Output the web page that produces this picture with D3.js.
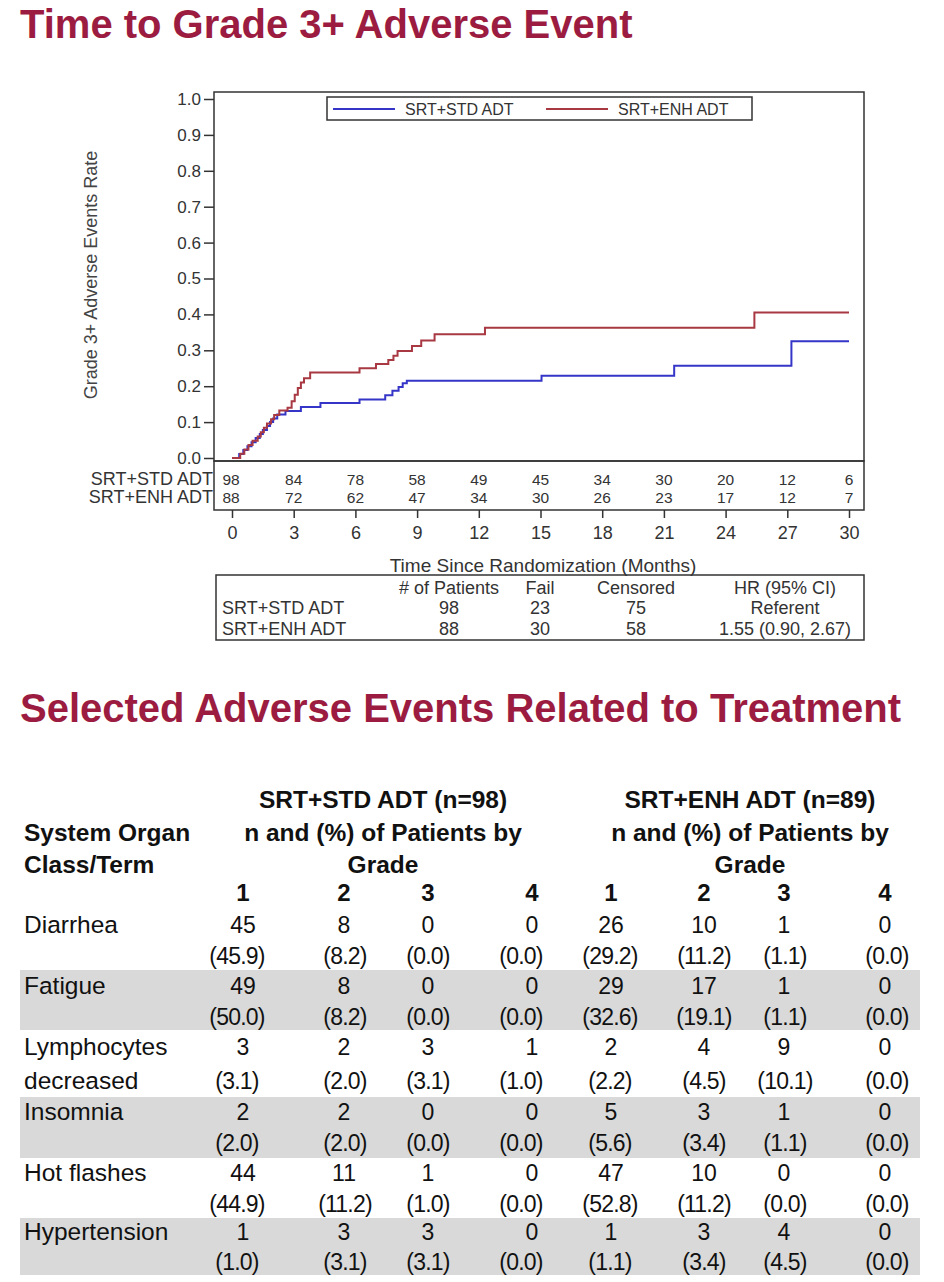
<!DOCTYPE html>
<html>
<head>
<meta charset="utf-8">
<script src="https://cdn.jsdelivr.net/npm/d3@7"></script>
<style>
  body { margin: 0; background: #fff; }
  svg { display: block; font-family: "Liberation Sans", Arial, sans-serif; }
</style>
</head>
<body>
<div id="chart"></div>
<script>
const stdColor = "#3535c8";
const enhColor = "#a83842";
const titleColor = "#9b1c40";

// cumulative incidence curves (step after)
const stdTimes = [0, 0.35, 0.55, 0.75, 0.95, 1.15, 1.35, 1.5, 1.7, 1.85, 2.0, 2.2, 2.6, 3.35, 4.3, 6.2, 7.45, 7.8, 8.1, 8.3, 8.5, 15.05, 21.5, 27.2, 30];
const stdRates = [0, 0.011, 0.022, 0.033, 0.044, 0.056, 0.067, 0.078, 0.089, 0.10, 0.11, 0.121, 0.131, 0.142, 0.153, 0.163, 0.175, 0.187, 0.198, 0.208, 0.215, 0.229, 0.257, 0.325, 0.325];
const enhTimes = [0, 0.4, 0.6, 0.8, 1.0, 1.25, 1.4, 1.55, 1.7, 1.9, 2.05, 2.3, 2.7, 2.9, 3.05, 3.2, 3.35, 3.5, 3.8, 6.2, 7.0, 7.6, 7.85, 8.05, 8.75, 9.2, 9.85, 12.3, 25.4, 30];
const enhRates = [0, 0.012, 0.024, 0.036, 0.048, 0.06, 0.072, 0.084, 0.096, 0.108, 0.12, 0.132, 0.14, 0.158, 0.176, 0.195, 0.21, 0.222, 0.238, 0.25, 0.262, 0.273, 0.285, 0.298, 0.312, 0.327, 0.345, 0.363, 0.405, 0.405];

const riskMonths = [0, 3, 6, 9, 12, 15, 18, 21, 24, 27, 30];
const stdAtRisk = [98, 84, 78, 58, 49, 45, 34, 30, 20, 12, 6];
const enhAtRisk = [88, 72, 62, 47, 34, 30, 26, 23, 17, 12, 7];
const armNames = ["SRT+STD ADT", "SRT+ENH ADT"];

const summaryHeader = ["", "# of Patients", "Fail", "Censored", "HR (95% CI)"];
const summaryRows = [
  ["SRT+STD ADT", "98", "23", "75", "Referent"],
  ["SRT+ENH ADT", "88", "30", "58", "1.55 (0.90, 2.67)"]
];

// adverse events table
const aeTerms = [["Diarrhea", ""], ["Fatigue", ""], ["Lymphocytes", "decreased"], ["Insomnia", ""], ["Hot flashes", ""], ["Hypertension", ""]];
const aeCounts = [
  [45, 8, 0, 0, 26, 10, 1, 0],
  [49, 8, 0, 0, 29, 17, 1, 0],
  [3, 2, 3, 1, 2, 4, 9, 0],
  [2, 2, 0, 0, 5, 3, 1, 0],
  [44, 11, 1, 0, 47, 10, 0, 0],
  [1, 3, 3, 0, 1, 3, 4, 0]
];
const aePcts = [
  ["45.9", "8.2", "0.0", "0.0", "29.2", "11.2", "1.1", "0.0"],
  ["50.0", "8.2", "0.0", "0.0", "32.6", "19.1", "1.1", "0.0"],
  ["3.1", "2.0", "3.1", "1.0", "2.2", "4.5", "10.1", "0.0"],
  ["2.0", "2.0", "0.0", "0.0", "5.6", "3.4", "1.1", "0.0"],
  ["44.9", "11.2", "1.0", "0.0", "52.8", "11.2", "0.0", "0.0"],
  ["1.0", "3.1", "3.1", "0.0", "1.1", "3.4", "4.5", "0.0"]
];
const grades = [1, 2, 3, 4, 1, 2, 3, 4];
const armHeaders = ["SRT+STD ADT (n=98)", "SRT+ENH ADT (n=89)"];

const W = 944, H = 1282;
const svg = d3.select("#chart").append("svg").attr("width", W).attr("height", H);
svg.append("rect").attr("width", W).attr("height", H).attr("fill", "#fff");

// titles
svg.append("text").attr("x", 20).attr("y", 38)
  .attr("font-size", 40).attr("font-weight", "bold").attr("fill", titleColor)
  .text("Time to Grade 3+ Adverse Event");
svg.append("text").attr("x", 20).attr("y", 722)
  .attr("font-size", 40).attr("font-weight", "bold").attr("fill", titleColor)
  .text("Selected Adverse Events Related to Treatment");

// ---- cumulative incidence plot ----
const plot = { left: 214, right: 864, top: 92, bottom: 461 };
const x = d3.scaleLinear().domain([0, 30]).range([232, 849]);
const y = d3.scaleLinear().domain([0, 1]).range([458, 99]);
const ink = "#333";

svg.append("rect")
  .attr("x", plot.left).attr("y", plot.top)
  .attr("width", plot.right - plot.left).attr("height", plot.bottom - plot.top)
  .attr("fill", "none").attr("stroke", ink).attr("stroke-width", 1.5);

const yAxisG = svg.append("g").attr("transform", `translate(${plot.left},0)`)
  .call(d3.axisLeft(y).tickValues(d3.range(0, 11).map(d => d / 10)).tickFormat(d3.format(".1f")).tickSize(10).tickSizeOuter(0).tickPadding(3));
yAxisG.select(".domain").remove();
yAxisG.selectAll("line").attr("stroke", ink).attr("stroke-width", 1.5);
yAxisG.selectAll("text").attr("font-size", 17).attr("fill", ink).attr("font-family", "Liberation Sans, Arial, sans-serif");

svg.append("text")
  .attr("transform", "translate(97,275) rotate(-90)")
  .attr("text-anchor", "middle").attr("font-size", 18).attr("fill", "#444")
  .text("Grade 3+ Adverse Events Rate");

const line = d3.line().curve(d3.curveStepAfter).x(d => x(d[0])).y(d => y(d[1]));
svg.append("path").datum(d3.zip(stdTimes, stdRates))
  .attr("d", line).attr("fill", "none").attr("stroke", stdColor).attr("stroke-width", 2);
svg.append("path").datum(d3.zip(enhTimes, enhRates))
  .attr("d", line).attr("fill", "none").attr("stroke", enhColor).attr("stroke-width", 2);

// legend
const lg = svg.append("g");
lg.append("rect").attr("x", 327).attr("y", 97).attr("width", 425).attr("height", 23)
  .attr("fill", "#fff").attr("stroke", ink).attr("stroke-width", 1.5);
[[stdColor, armNames[0], 333], [enhColor, armNames[1], 546]].forEach(([c, t, lx]) => {
  lg.append("line").attr("x1", lx).attr("x2", lx + 62).attr("y1", 109).attr("y2", 109)
    .attr("stroke", c).attr("stroke-width", 2);
  lg.append("text").attr("x", lx + 72).attr("y", 115).attr("font-size", 16).attr("fill", ink).text(t);
});

// at-risk box
const riskTop = 461, riskBottom = 510;
svg.append("rect").attr("x", plot.left).attr("y", riskTop)
  .attr("width", plot.right - plot.left).attr("height", riskBottom - riskTop)
  .attr("fill", "none").attr("stroke", ink).attr("stroke-width", 1.5);
[[stdAtRisk, 485], [enhAtRisk, 503]].forEach(([vals, ty], i) => {
  svg.append("text").attr("x", 213).attr("y", ty).attr("text-anchor", "end")
    .attr("font-size", 18).attr("fill", ink).text(armNames[i]);
  svg.selectAll(null).data(vals).join("text")
    .attr("x", (d, j) => x(riskMonths[j]) + (j === 0 ? -1 : 0)).attr("y", ty)
    .attr("text-anchor", "middle").attr("font-size", 15.5).attr("fill", ink)
    .text(d => d);
});

const xAxisG = svg.append("g").attr("transform", `translate(0,${riskBottom})`)
  .call(d3.axisBottom(x).tickValues(riskMonths).tickSize(8).tickSizeOuter(0).tickPadding(8));
xAxisG.select(".domain").remove();
xAxisG.selectAll("line").attr("stroke", ink).attr("stroke-width", 1.5);
xAxisG.selectAll("text").attr("font-size", 18).attr("fill", ink).attr("font-family", "Liberation Sans, Arial, sans-serif");

svg.append("text").attr("x", 543).attr("y", 572).attr("text-anchor", "middle")
  .attr("font-size", 19).attr("fill", ink).text("Time Since Randomization (Months)");

// summary table
svg.append("rect").attr("x", 216).attr("y", 575).attr("width", 648).attr("height", 65)
  .attr("fill", "none").attr("stroke", ink).attr("stroke-width", 1.5);
const sumCols = [222, 449, 540, 636, 785];
const sumY = [593.5, 614, 635];
[summaryHeader, ...summaryRows].forEach((row, r) => {
  row.forEach((cell, c) => {
    svg.append("text").attr("x", sumCols[c]).attr("y", sumY[r])
      .attr("text-anchor", c === 0 ? "start" : "middle")
      .attr("font-size", 18).attr("fill", ink).text(cell);
  });
});

// ---- adverse events table ----
const colX = [243, 344, 428, 532, 611, 704, 784, 885];
const pctX = [237, 345, 428, 521, 610, 704, 785, 887];
const armX = [383, 750];
const rowY = [933, 994, 1055, 1120, 1181, 1240];
const pctY = [964, 1025, 1089, 1151, 1212, 1270];
const bands = [[970, 1030], [1097, 1158], [1218, 1275]];
const tk = "#111";

svg.selectAll(".band").data(bands).join("rect")
  .attr("x", 20).attr("width", 900)
  .attr("y", d => d[0]).attr("height", d => d[1] - d[0])
  .attr("fill", "#d9d9d9");

armHeaders.forEach((h, i) => {
  [[h, 808], ["n and (%) of Patients by", 841], ["Grade", 873]].forEach(([t, ty]) => {
    svg.append("text").attr("x", armX[i]).attr("y", ty).attr("text-anchor", "middle")
      .attr("font-size", 24.5).attr("font-weight", "bold").attr("fill", tk).text(t);
  });
});
svg.append("text").attr("x", 24).attr("y", 841).attr("font-size", 24.5).attr("font-weight", "bold").attr("fill", tk).text("System Organ");
svg.append("text").attr("x", 24).attr("y", 873).attr("font-size", 24.5).attr("font-weight", "bold").attr("fill", tk).text("Class/Term");

svg.selectAll(".grade").data(grades).join("text")
  .attr("x", (d, i) => colX[i]).attr("y", 901).attr("text-anchor", "middle")
  .attr("font-size", 24).attr("font-weight", "bold").attr("fill", tk).text(d => d);

aeTerms.forEach((t, r) => {
  svg.append("text").attr("x", 24).attr("y", rowY[r]).attr("font-size", 24.5).attr("fill", tk).text(t[0]);
  if (t[1]) svg.append("text").attr("x", 24).attr("y", pctY[r]).attr("font-size", 24.5).attr("fill", tk).text(t[1]);
  aeCounts[r].forEach((v, c) => {
    svg.append("text").attr("x", colX[c]).attr("y", rowY[r]).attr("text-anchor", "middle")
      .attr("font-size", 23).attr("fill", tk).text(v);
  });
  aePcts[r].forEach((v, c) => {
    svg.append("text").attr("x", pctX[c]).attr("y", pctY[r]).attr("text-anchor", "middle")
      .attr("font-size", 23).attr("letter-spacing", -0.8).attr("fill", tk).text(`(${v})`);
  });
});
</script>
</body>
</html>
